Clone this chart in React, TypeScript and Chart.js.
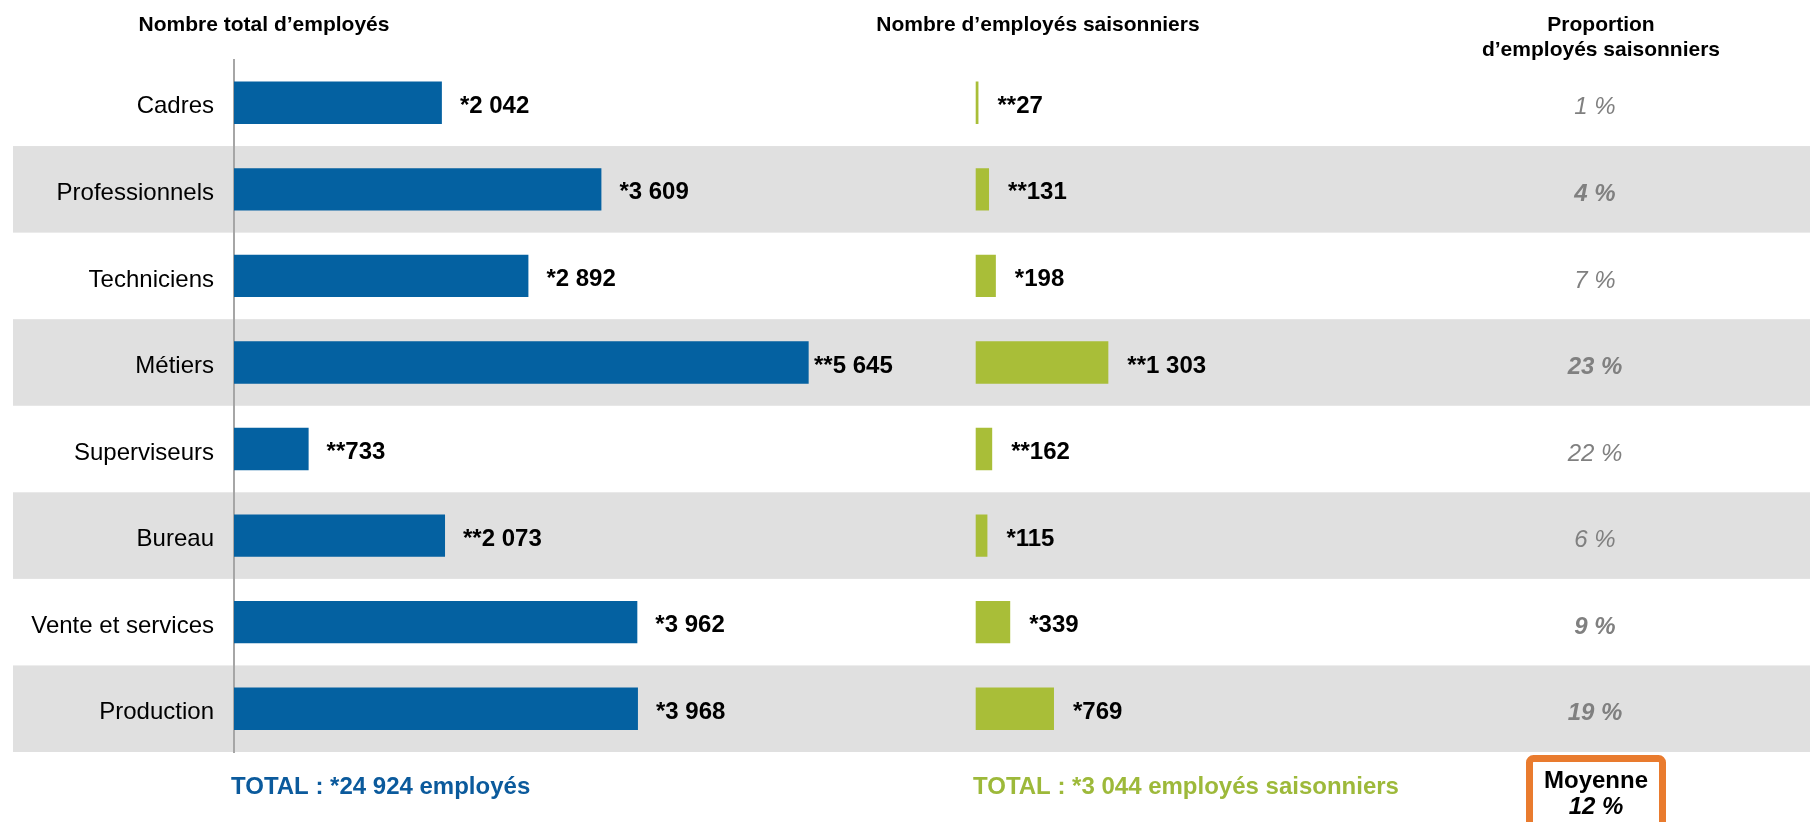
import { useEffect, useRef } from "react";
import { Chart, registerables } from "chart.js";
Chart.register(...registerables);

const categories = ["Cadres", "Professionnels", "Techniciens", "Métiers", "Superviseurs", "Bureau", "Vente et services", "Production"];
const totalEmployees = [2042, 3609, 2892, 5645, 733, 2073, 3962, 3968];
const totalMarks = ["*", "*", "*", "**", "**", "**", "*", "*"];
const seasonalEmployees = [27, 131, 198, 1303, 162, 115, 339, 769];
const seasonalMarks = ["**", "**", "*", "**", "**", "*", "*", "*"];
const seasonalShare = [1, 4, 7, 23, 22, 6, 9, 19];
const shareEmphasis = [false, true, false, true, false, false, true, true];

const headerTotal = "Nombre total d’employés";
const headerSeasonal = "Nombre d’employés saisonniers";
const headerShare = ["Proportion", "d’employés saisonniers"];
const totalLabel = "TOTAL : *24 924 employés";
const seasonalTotalLabel = "TOTAL : *3 044 employés saisonniers";
const averageLabel = "Moyenne";
const averageValue = "12 %";

const FONT = '"Liberation Sans", Arial, Helvetica, sans-serif';
const BLUE = "#0461A1";
const GREEN = "#A9BE38";
const GRAY_BAND = "#E0E0E0";
const PCT_GRAY = "#808080";
const ORANGE = "#E97B2E";

const W = 1810;
const H = 822;
const AXIS_LEFT = 234;
const GREEN_BASE = 975.7;
const PX_PER_UNIT = 0.1018;
const SPAN = (W - AXIS_LEFT) / PX_PER_UNIT;
const GREEN_OFFSET = (GREEN_BASE - AXIS_LEFT) / PX_PER_UNIT;
const TOTAL_LABEL_MAX_X = 814;

const fmt = (v: number) => String(v).replace(/\B(?=(\d{3})+(?!\d))/g, " ");

const decorPlugin = {
  id: "decor",
  beforeDraw(chart: any) {
    const { ctx, chartArea } = chart;
    const y = chart.scales.y;
    const rowH = (chartArea.bottom - chartArea.top) / categories.length;
    ctx.save();
    ctx.fillStyle = GRAY_BAND;
    categories.forEach((_, i) => {
      if (i % 2 === 1) {
        const cy = y.getPixelForValue(i);
        ctx.fillRect(13, cy - rowH / 2, W - 13, rowH);
      }
    });
    ctx.restore();
  },
  afterDatasetsDraw(chart: any) {
    const { ctx } = chart;
    const y = chart.scales.y;
    ctx.save();
    ctx.textBaseline = "middle";
    ctx.textAlign = "left";
    ctx.fillStyle = "#000";
    ctx.font = `bold 24px ${FONT}`;
    const m0 = chart.getDatasetMeta(0);
    const m1 = chart.getDatasetMeta(1);
    m0.data.forEach((el: any, i: number) => {
      const x = Math.min(el.x + 18, TOTAL_LABEL_MAX_X);
      ctx.fillText(totalMarks[i] + fmt(totalEmployees[i]), x, el.y + 3.5);
    });
    m1.data.forEach((el: any, i: number) => {
      ctx.fillText(seasonalMarks[i] + fmt(seasonalEmployees[i]), el.x + 19, el.y + 3.5);
    });
    ctx.textAlign = "center";
    ctx.fillStyle = PCT_GRAY;
    seasonalShare.forEach((v, i) => {
      ctx.font = `italic ${shareEmphasis[i] ? "bold " : ""}24px ${FONT}`;
      ctx.fillText(`${v} %`, 1595, y.getPixelForValue(i) + 5);
    });
    ctx.restore();
  },
  afterDraw(chart: any) {
    const { ctx } = chart;
    ctx.save();
    ctx.textBaseline = "middle";
    ctx.textAlign = "center";
    ctx.fillStyle = "#000";
    ctx.font = `bold 21px ${FONT}`;
    ctx.fillText(headerTotal, 264, 25);
    ctx.fillText(headerSeasonal, 1038, 25);
    ctx.fillText(headerShare[0], 1601, 25);
    ctx.fillText(headerShare[1], 1601, 50);

    ctx.textAlign = "left";
    ctx.font = `bold 24px ${FONT}`;
    ctx.fillStyle = "#0B5A9C";
    ctx.fillText(totalLabel, 231, 787);
    ctx.fillStyle = "#9DB93A";
    ctx.fillText(seasonalTotalLabel, 973, 787);

    // average box
    ctx.fillStyle = "#fff";
    ctx.strokeStyle = ORANGE;
    ctx.lineWidth = 7;
    ctx.beginPath();
    (ctx as any).roundRect(1529.5, 758.5, 133, 90, 4);
    ctx.fill();
    ctx.stroke();
    ctx.fillStyle = "#000";
    ctx.textAlign = "center";
    ctx.font = `bold 24px ${FONT}`;
    ctx.fillText(averageLabel, 1596, 781);
    ctx.font = `italic bold 24px ${FONT}`;
    ctx.fillText(averageValue, 1596, 807);
    ctx.restore();
  },
};

export default function App() {
  const ref = useRef<HTMLCanvasElement>(null);
  useEffect(() => {
    document.body.style.margin = "0";
    const chart = new Chart(ref.current!, {
      type: "bar",
      data: {
        labels: categories,
        datasets: [
          {
            label: "Nombre total d’employés",
            data: totalEmployees,
            backgroundColor: BLUE,
            xAxisID: "x",
            yAxisID: "y",
            grouped: false,
            categoryPercentage: 1,
            barPercentage: 0.49,
          } as any,
          {
            label: "Nombre d’employés saisonniers",
            data: seasonalEmployees,
            backgroundColor: GREEN,
            xAxisID: "x2",
            yAxisID: "y",
            grouped: false,
            categoryPercentage: 1,
            barPercentage: 0.49,
          } as any,
        ],
      },
      options: {
        indexAxis: "y",
        responsive: false,
        devicePixelRatio: 1,
        animation: false,
        layout: { padding: { top: 59.5, bottom: 70, left: 0, right: 0 } },
        plugins: {
          legend: { display: false },
          tooltip: { enabled: false },
          title: { display: false },
        },
        scales: {
          x: { type: "linear", display: false, min: 0, max: SPAN },
          x2: { type: "linear", display: false, min: -GREEN_OFFSET, max: SPAN - GREEN_OFFSET },
          y: {
            type: "category",
            position: "left",
            grid: { display: false, drawTicks: false },
            border: { display: true, color: "#A6A6A6", width: 2 },
            ticks: {
              color: "#000",
              padding: 20,
              labelOffset: 4,
              font: { family: FONT, size: 24 },
            },
            afterFit(scale: any) {
              scale.width = AXIS_LEFT;
            },
          },
        },
      } as any,
      plugins: [decorPlugin],
    });
    return () => chart.destroy();
  }, []);
  return (
    <div style={{ width: W, height: H }}>
      <canvas ref={ref} width={W} height={H} style={{ display: "block" }} />
    </div>
  );
}
